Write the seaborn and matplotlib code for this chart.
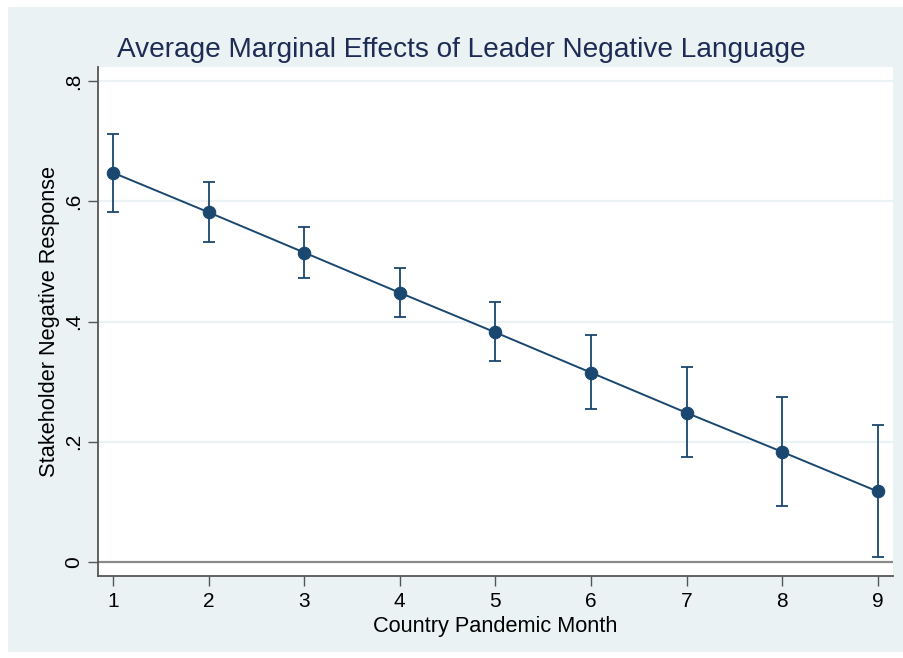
import matplotlib
matplotlib.use("Agg")
import matplotlib.pyplot as plt
import seaborn as sns
import pandas as pd
from matplotlib.patches import Rectangle

# Data
months = [1, 2, 3, 4, 5, 6, 7, 8, 9]
margins = [0.648, 0.582, 0.515, 0.448, 0.382, 0.315, 0.248, 0.183, 0.117]
ci_low = [0.583, 0.532, 0.473, 0.408, 0.335, 0.255, 0.175, 0.092, 0.008]
ci_high = [0.713, 0.633, 0.558, 0.490, 0.432, 0.377, 0.325, 0.275, 0.227]
y_ticks = [0, 0.2, 0.4, 0.6, 0.8]
y_tick_labels = ["0", ".2", ".4", ".6", ".8"]

title = "Average Marginal Effects of Leader Negative Language"
xlabel = "Country Pandemic Month"
ylabel = "Stakeholder Negative Response"

df = pd.DataFrame({"month": months, "margin": margins, "lo": ci_low, "hi": ci_high})

sns.set_theme(style="white")
plt.rcParams["font.family"] = ["Liberation Sans", "DejaVu Sans"]

NAVY = "#1a476f"
BG = "#eaf2f3"

fig = plt.figure(figsize=(9.04, 6.58), dpi=100)
fig.patch.set_facecolor("white")
W, H = 904, 658
fig.patches.append(Rectangle((8 / W, 6 / H), 1 - 8 / W, 1 - 13 / H, transform=fig.transFigure,
                             facecolor=BG, edgecolor="none", zorder=-10))

ax = fig.add_axes([98 / W, (H - 575.7) / H, (893 - 98) / W, (575.7 - 67) / H])
ax.set_zorder(1)
ax.set_facecolor("white")

# gridlines
for t in y_ticks[1:]:
    ax.axhline(t, color=BG, lw=1.6, zorder=1)
ax.axhline(0, color="#8a8a8a", lw=1.6, zorder=1)

yerr = [df["margin"] - df["lo"], df["hi"] - df["margin"]]
ax.errorbar(df["month"], df["margin"], yerr=yerr, fmt="none", ecolor=NAVY,
            elinewidth=1.3, capsize=4.3, capthick=1.3, zorder=3)
sns.lineplot(data=df, x="month", y="margin", ax=ax, color=NAVY, lw=1.4,
             marker="o", markersize=9, markeredgecolor=NAVY, zorder=4)

ax.set_xlim(0.843, 9.16)
ax.set_ylim(-0.0233, 0.824)
ax.set_xticks(months)
ax.set_xticklabels([str(m) for m in months])
ax.set_yticks(y_ticks)
ax.set_yticklabels(y_tick_labels, rotation=90, va="center")

for s in ["top", "right"]:
    ax.spines[s].set_visible(False)
for s in ["left", "bottom"]:
    ax.spines[s].set_color("#555555")
    ax.spines[s].set_linewidth(1.3)

ax.tick_params(axis="both", which="major", length=7, width=1.0, color="#555555",
               labelsize=15, labelcolor="black", direction="out")
ax.tick_params(axis="x", pad=5, bottom=True)
ax.tick_params(axis="y", pad=4, left=True)

ax.set_xlabel(xlabel, fontsize=15.7, color="black", labelpad=3)
ax.set_ylabel(ylabel, fontsize=15.7, color="black", labelpad=3)

fig.text(461.5 / W, (H - 57) / H, title, ha="center", va="baseline",
         fontsize=20.2, color="#1e2c55")

fig.savefig("out.png", dpi=100, facecolor="white")
